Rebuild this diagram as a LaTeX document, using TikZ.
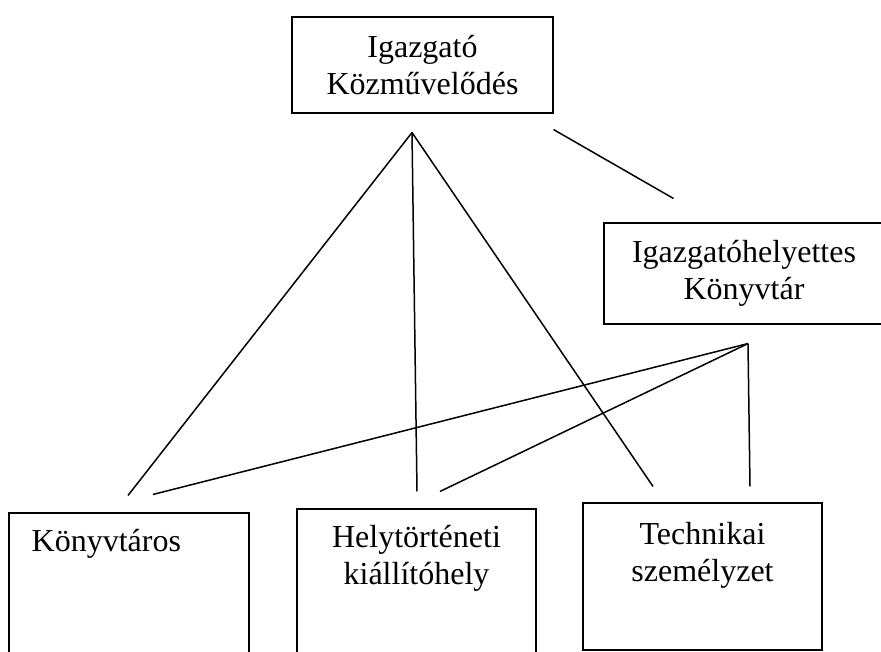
\documentclass[tikz,border=0pt]{standalone}
\usepackage{fontspec}
\setmainfont{Liberation Serif}
\usetikzlibrary{positioning, calc}

\begin{document}
\begin{tikzpicture}[
  x=1pt, y=-1pt,
  unitbox/.style={draw, line width=1.1pt, inner sep=0pt,
                  font=\fontsize{32}{37}\selectfont, align=center},
  boxtext/.style={inner sep=0pt, font=\fontsize{32}{37}\selectfont, align=center},
  link/.style={line width=1.5pt}
]
  \clip (0,0) rectangle (881,651);

  \node[unitbox, minimum width=261, minimum height=96] (igazgato)  at (422.5,65)  {Igazgató\\Közművelődés};
  \node[unitbox, minimum width=280, minimum height=101] (helyettes) at (744,273.5) {Igazgatóhelyettes\\Könyvtár};

  \node[unitbox, minimum width=240, minimum height=187] (konyvtaros) at (129,606.5) {};
  \node[unitbox, minimum width=239, minimum height=191] (helytort)   at (416.5,604.5) {};
  \node[unitbox, minimum width=239, minimum height=147] (technikai)  at (702.5,576.5) {};

  \node[boxtext, anchor=base west] (konyvtarostxt) at ($(konyvtaros.north west)+(23,39)$) {Könyvtáros};
  \node[boxtext, anchor=north] (helytorttxt)  at ($(helytort.north)+(0,17)$)  {Helytörténeti\\kiállítóhely};
  \node[boxtext, anchor=north] (technikaitxt) at ($(technikai.north)+(0,20)$) {Technikai\\személyzet};

  % free ends of the connectors
  \coordinate (igApex)  at ($(igazgato.south)+(-10.5,19)$);
  \coordinate (hApex)   at ($(helyettes.south)+(4,19)$);
  \coordinate (kA)      at ($(konyvtaros.north)+(-1,-17)$);
  \coordinate (kB)      at ($(konyvtaros.north)+(24,-18)$);
  \coordinate (htA)     at ($(helytort.north)+(0.5,-17)$);
  \coordinate (htB)     at ($(helytort.north)+(23.5,-17)$);
  \coordinate (tA)      at ($(technikai.north)+(-49.5,-16)$);
  \coordinate (tB)      at ($(technikai.north)+(47.5,-16)$);
  \coordinate (diagA)   at ($(igazgato.south east)+(0,16)$);
  \coordinate (diagB)   at ($(helyettes.north west)+(70,-24)$);

  \draw[link] (igApex) -- (kA);
  \draw[link] (igApex) -- (htA);
  \draw[link] (igApex) -- (tA);
  \draw[link] (diagA)  -- (diagB);
  \draw[link] (hApex)  -- (kB);
  \draw[link] (hApex)  -- (htB);
  \draw[link] (hApex)  -- (tB);
\end{tikzpicture}
\end{document}
